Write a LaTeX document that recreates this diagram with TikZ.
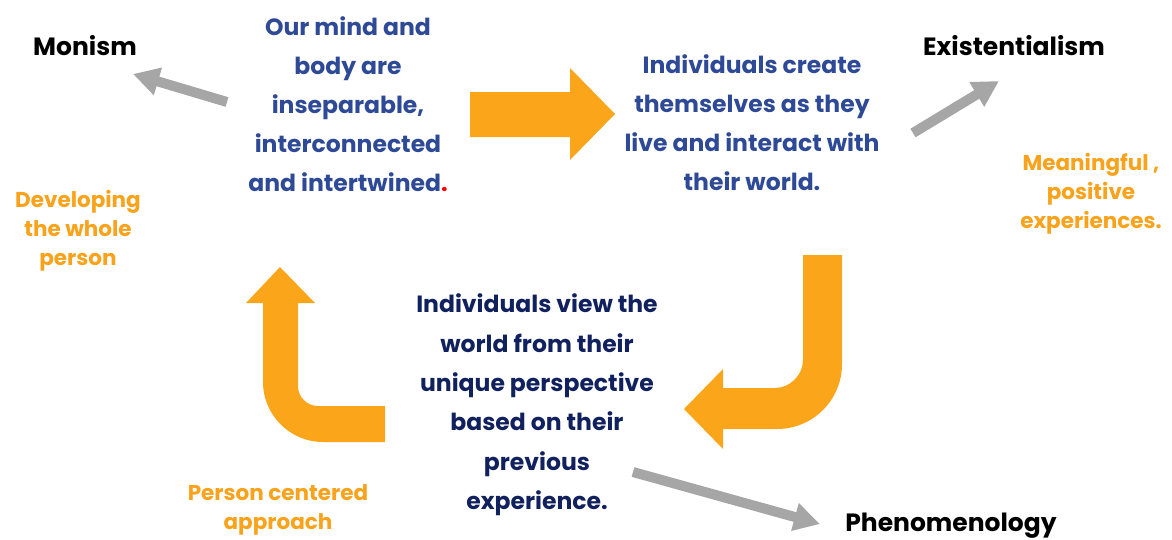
\documentclass[tikz,border=0pt]{standalone}
\usepackage{fontspec}
\setmainfont{Poppins}
\usetikzlibrary{arrows.meta}
\definecolor{arrorange}{HTML}{FBA61A}
\definecolor{txtorange}{HTML}{F9A21B}
\definecolor{topblue}{HTML}{2E4A96}
\definecolor{navy}{HTML}{10215E}
\definecolor{arrgray}{HTML}{A6A6A6}
\tikzset{
  bluetxt/.style={font=\bfseries\fontsize{23.5}{39}\selectfont, text=topblue, align=center, inner sep=0pt},
  navytxt/.style={font=\bfseries\fontsize{23.5}{39.4}\selectfont, text=navy, align=center, inner sep=0pt},
  orangetxt/.style={font=\bfseries\fontsize{21.5}{29}\selectfont, text=txtorange, align=center, inner sep=0pt},
  blacktxt/.style={font=\bfseries\fontsize{25}{28}\selectfont, text=black, inner sep=0pt},
  grayarrow/.style={draw=arrgray, line width=10pt, -{Triangle[length=26pt,width=27pt]}},
  bigarrow/.style={fill=arrorange, draw=none}
}
\begin{document}
\begin{tikzpicture}[x=1pt,y=-1pt]
\useasboundingbox (0,0) rectangle (1172,539);
% texts
\node[bluetxt] (mind) at (348,104.5) {Our mind and\\body are\\inseparable,\\interconnected\\and intertwined{\color{red}.}};
\node[bluetxt] (create) at (752,123) {Individuals create\\themselves as they\\live and interact with\\their world.};
\node[navytxt] (view) at (537,405) {Individuals view the\\world from their\\unique perspective\\based on their\\previous\\experience.};
\node[orangetxt] (meaning) at (1091,194) {Meaningful ,\\positive\\experiences.};
\node[orangetxt] (whole) at (78,231) {Developing\\the whole\\person};
\node[orangetxt] (person) at (278,510) {Person centered\\approach};
\node[blacktxt] (monism) at (85,46) {Monism};
\node[blacktxt] (exist) at (1014,46) {Existentialism};
\node[blacktxt] (phen) at (951,526) {Phenomenology};
% gray arrows
\coordinate (m1) at (227,102); \coordinate (m2) at (133,74);
\coordinate (e1) at (913,133); \coordinate (e2) at (999,81);
\coordinate (p1) at (633,472); \coordinate (p2) at (820,524);
\draw[grayarrow] (m1) -- (m2);
\draw[grayarrow] (e1) -- (e2);
\draw[grayarrow] (p1) -- (p2);
% right arrow
\fill[bigarrow] (470,92) -- (570,92) -- (570,68) -- (615,114) -- (570,160) -- (570,137) -- (470,137) -- cycle;
% down-left bent arrow
\fill[bigarrow] (803,255) -- (842,255) -- (842,364)
  .. controls (842,400) and (813,429) .. (777,429)
  -- (723,429) -- (723,449) -- (684,409) -- (723,369) -- (723,388) -- (775,388)
  .. controls (790,388) and (803,375) .. (803,360) -- cycle;
% up-left bent arrow
\fill[bigarrow] (298,303) -- (315,303) -- (280,267) -- (246,303) -- (263,303) -- (263,382)
  .. controls (263,415) and (290,442) .. (323,442)
  -- (385,442) -- (385,406) -- (318,406)
  .. controls (307,406) and (298,397) .. (298,386) -- cycle;
\end{tikzpicture}
\end{document}
